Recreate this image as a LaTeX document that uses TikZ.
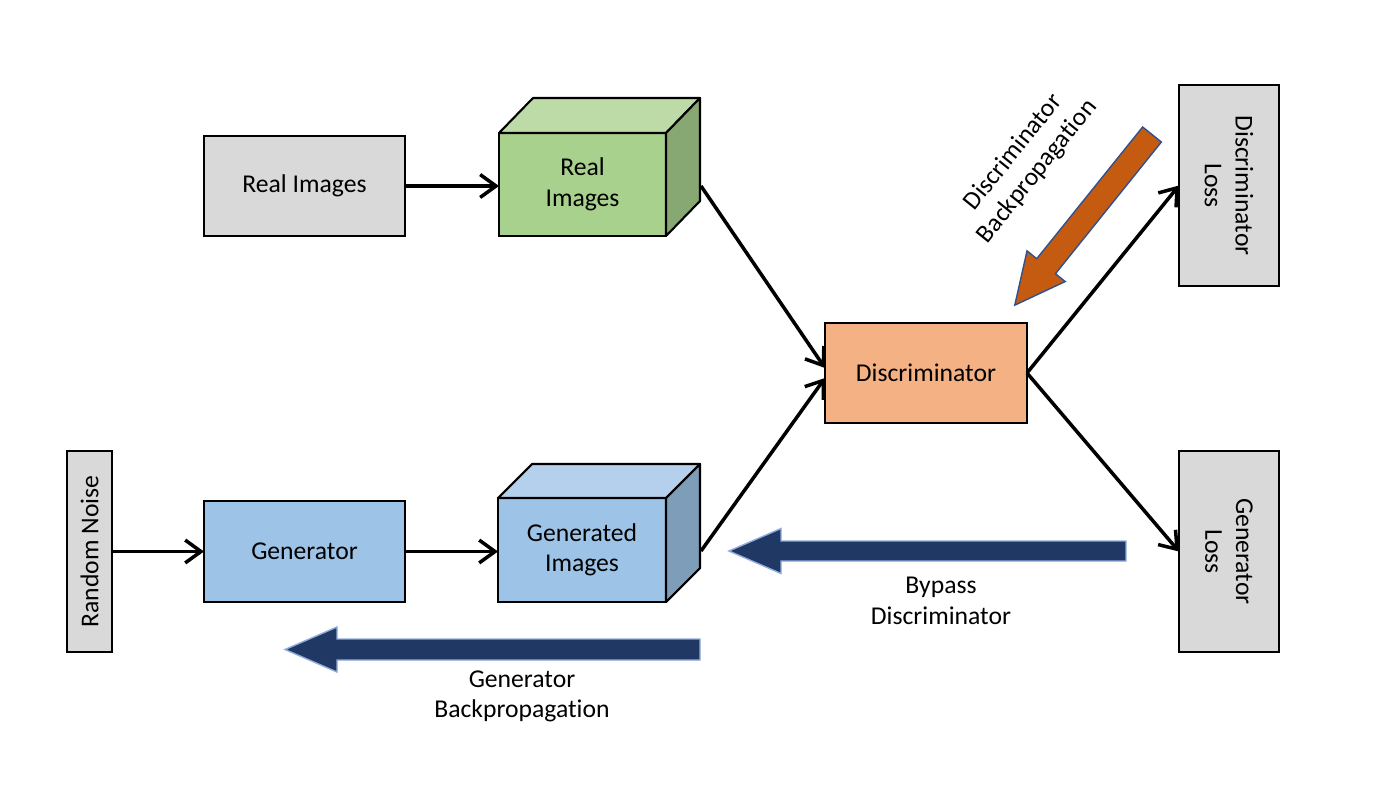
\documentclass[tikz,border=0pt]{standalone}
\usepackage{fontspec}
\setmainfont{Carlito}[Ligatures={NoCommon,NoRequired,NoContextual}]
\usetikzlibrary{arrows.meta, positioning, calc}
\definecolor{boxgray}{RGB}{217,217,217}
\definecolor{greenfront}{RGB}{169,209,142}
\definecolor{greentop}{RGB}{189,219,166}
\definecolor{greenside}{RGB}{135,168,114}
\definecolor{bluefront}{RGB}{157,195,230}
\definecolor{bluetop}{RGB}{180,208,236}
\definecolor{blueside}{RGB}{126,157,185}
\definecolor{discfill}{RGB}{244,177,131}
\definecolor{navy}{RGB}{32,56,100}
\definecolor{navyedge}{RGB}{143,170,220}
\definecolor{rust}{RGB}{197,90,17}
\definecolor{rustedge}{RGB}{47,82,143}

\begin{document}
\begin{tikzpicture}[
  font=\fontsize{7.3}{8.7}\selectfont,
  >={Straight Barb[length=4.5pt,width=6.5pt]},
  box/.style={rectangle, draw, line width=0.6pt, outer sep=0pt,
              inner sep=0pt, align=center},
  greybox/.style={box, fill=boxgray, minimum width=2.01cm, minimum height=1.0cm},
  cubefront/.style={box, minimum width=1.67cm, minimum height=1.03cm},
  cubeedge/.style={draw, line width=0.6pt, line join=round},
  discbox/.style={box, fill=discfill, minimum width=2.02cm, minimum height=1.0cm},
  link/.style={->, line width=1pt},
  navyarrow/.style={fill=navy, draw=navyedge, line width=0.4pt},
  rustarrow/.style={fill=rust, draw=rustedge, line width=0.4pt},
  label/.style={align=center, inner sep=0pt},
]
\useasboundingbox (0,0) rectangle (14,-7.88);

% boxes
\node[greybox] (realsrc) at (3.045,-1.86) {Real Images};
\node[greybox, minimum height=0.45cm, rotate=90] (noise) at (0.895,-5.515) {Random Noise};
\node[box, fill=bluefront, minimum width=2.01cm, minimum height=1.01cm] (gen) at (3.045,-5.515) {Generator};
\node[discbox] (disc) at (9.26,-3.73) {Discriminator};
\node[greybox, rotate=-90] (dloss) at (12.29,-1.855) {Discriminator\\Loss};
\node[greybox, rotate=-90] (gloss) at (12.29,-5.515) {Generator\\Loss};

% cubes
\node[cubefront, fill=greenfront] (realcube) at (5.825,-1.845) {Real\\Images};
\draw[cubeedge, fill=greentop] (realcube.north west) -- ++(0.34,0.35) -- ++(1.67,0) -- (realcube.north east) -- cycle;
\draw[cubeedge, fill=greenside] (realcube.north east) -- ++(0.34,0.35) -- ++(0,-1.03) -- (realcube.south east) -- cycle;
\node[cubefront, fill=bluefront, minimum width=1.68cm, minimum height=1.04cm] (gencube) at (5.82,-5.50) {Generated\\Images};
\draw[cubeedge, fill=bluetop] (gencube.north west) -- ++(0.34,0.34) -- ++(1.68,0) -- (gencube.north east) -- cycle;
\draw[cubeedge, fill=blueside] (gencube.north east) -- ++(0.34,0.34) -- ++(0,-1.04) -- (gencube.south east) -- cycle;

\coordinate (realout) at ($(realcube.east)+(0.35,-0.015)$);
\coordinate (genout) at ($(gencube.east)+(0.35,-0.01)$);

% connectors
\draw[link] (realsrc.east) -- (realsrc.east -| realcube.west);
\draw[link] (noise.south) -- (gen.west);
\draw[link] (gen.east) -- (gen.east -| gencube.west);
\draw[link] (realout) -- ($(disc.west)+(0,0.05)$);
\draw[link] (genout) -- ($(disc.west)+(0,-0.05)$);
\draw[link] (disc.east) -- (dloss.south);
\draw[link] (disc.east) -- (gloss.south);

% block arrows
\draw[navyarrow] (11.26,-5.41) -- (7.81,-5.41) -- (7.81,-5.285) -- (7.29,-5.51)
  -- (7.81,-5.735) -- (7.81,-5.61) -- (11.26,-5.61) -- cycle;
\draw[navyarrow] (7.00,-6.39) -- (3.37,-6.39) -- (3.37,-6.27) -- (2.85,-6.495)
  -- (3.37,-6.72) -- (3.37,-6.60) -- (7.00,-6.60) -- cycle;
\begin{scope}[shift={(11.52,-1.345)}, rotate=231.2]
  \draw[rustarrow] (0,0.12) -- (1.69,0.12) -- (1.69,0.245) -- (2.19,0)
    -- (1.69,-0.245) -- (1.69,-0.12) -- (0,-0.12) -- cycle;
\end{scope}

% labels
\node[label, rotate=51.2] (dbacklbl) at (10.255,-1.62) {Discriminator\\Backpropagation};
\node[label] (bypasslbl) at (9.41,-6.01) {Bypass\\Discriminator};
\node[label] (gbacklbl) at (5.22,-6.965) {Generator\\Backpropagation};
\end{tikzpicture}
\end{document}
